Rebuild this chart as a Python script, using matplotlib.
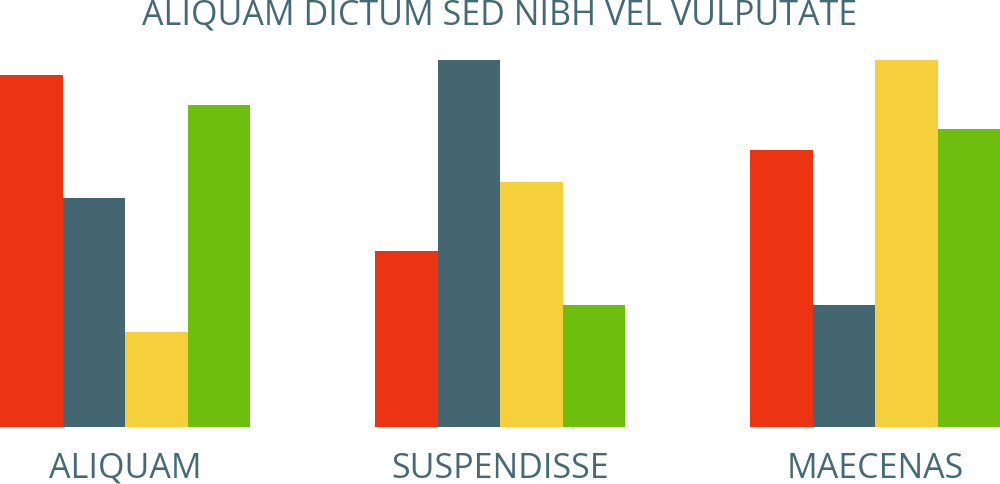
import matplotlib
matplotlib.use("Agg")
import matplotlib.pyplot as plt
import matplotlib.transforms as mtransforms

groups = ["ALIQUAM", "SUSPENDISSE", "MAECENAS"]
red = [95.9, 48.0, 75.4]
slate = [62.3, 100.0, 33.2]
yellow = [25.8, 66.6, 100.0]
green = [87.7, 33.2, 81.1]
title = "ALIQUAM DICTUM SED NIBH VEL VULPUTATE"

colors = ["#EC3312", "#436670", "#F6CF3C", "#6EBE0E"]
text_color = "#456A76"

fig = plt.figure(figsize=(10, 4.85), dpi=100)
ax = fig.add_axes([0, 57.5 / 485, 1, 366.5 / 485])
series = [red, slate, yellow, green]
for si, vals in enumerate(series):
    xs = [gi * 6 + si for gi in range(len(groups))]
    ax.bar(xs, vals, width=1.0, align="edge", color=colors[si], linewidth=0)
ax.set_xlim(0, 16)
ax.set_ylim(0, 100)
ax.axis("off")

trans = mtransforms.blended_transform_factory(ax.transData, fig.transFigure)
for gi, g in enumerate(groups):
    ax.text(gi * 6 + 2, 1 - 478 / 485, g, transform=trans, ha="center", va="baseline",
            fontsize=24.5, color=text_color, family="Open Sans")
fig.text(0.5, 1 - 25 / 485, title, ha="center", va="baseline", fontsize=24.5,
         color=text_color, family="Open Sans")
fig.savefig("out.png", dpi=100)
